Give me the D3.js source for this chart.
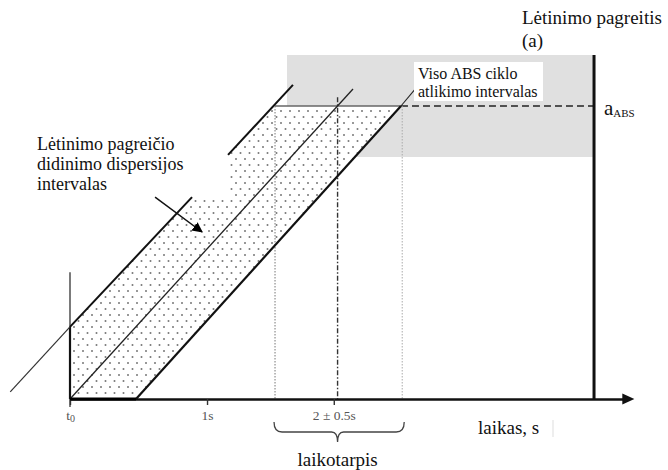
<!DOCTYPE html>
<html>
<head>
<meta charset="utf-8">
<script src="https://cdn.jsdelivr.net/npm/d3@7.9.0/dist/d3.min.js"></script>
</head>
<body style="margin:0; background:#fff">
<svg id="chart" width="668" height="470"></svg>
<script>
// time in seconds, deceleration relative to a_ABS (1 = a_ABS)
const tickValues = [0, 1, 1.925];
const tickLabels = ["t0", "1s", "2 \u00b1 0.5s"];

const upperLead = [[-0.43, 0.024], [0, 0.246]];
const upperPart1 = [[0, 0.246], [0.878, 0.689]];
const upperPart2 = [[1.137, 0.833], [1.604, 1.072]];
const middleLine = [[0, 0], [2.036, 1.058]];
const lowerLine = [[0.475, 0], [2.381, 1]];
const lowerLeader = [[2.381, 1], [2.489, 1.061]];

const band = [[0, 0.246], [0.878, 0.689], [1.137, 0.689], [1.137, 0.833],
              [1.475, 1], [2.381, 1], [0.475, 0], [0, 0]];

const tStart = 1.475, tMid = 1.925, tEnd = 2.39;   // laikotarpis
const tAxisEnd = 4.06, tRightAxis = 3.77;
const grayBox = { t0: 1.561, t1: 3.77, a0: 0.826, a1: 1.174 };
const aAbs = 1;

const serif = "'Liberation Serif', 'Tinos', 'Times New Roman'";
const svg = d3.select("#chart");

const x = d3.scaleLinear().domain([0, 1]).range([70, 209]);
const y = d3.scaleLinear().domain([0, 1]).range([399, 106]);

const line = d3.line().x(d => x(d[0])).y(d => y(d[1]));

function label(px, py, size, str) {
    return svg.append("text")
        .attr("x", px).attr("y", py)
        .attr("font-size", size).attr("fill", "#111")
        .style("font-family", serif)
        .text(str);
}

// dot pattern for the dispersion band
const defs = svg.append("defs");
const pat = defs.append("pattern")
    .attr("id", "dots")
    .attr("patternUnits", "userSpaceOnUse")
    .attr("width", 9).attr("height", 12);
pat.append("circle").attr("cx", 2).attr("cy", 3).attr("r", 1).attr("fill", "#777");
pat.append("circle").attr("cx", 6.5).attr("cy", 9).attr("r", 1).attr("fill", "#777");

// gray zone
svg.append("rect")
    .attr("x", x(grayBox.t0))
    .attr("y", y(grayBox.a1))
    .attr("width", x(grayBox.t1) - x(grayBox.t0))
    .attr("height", y(grayBox.a0) - y(grayBox.a1))
    .attr("fill", "#e0e0e0");

// dotted band
svg.append("path")
    .attr("d", line(band) + "Z")
    .attr("fill", "#fff");
svg.append("path")
    .attr("d", line(band) + "Z")
    .attr("fill", "url(#dots)");

// a_ABS level
svg.append("line")
    .attr("x1", x(tStart)).attr("x2", x(lowerLine[1][0]))
    .attr("y1", y(aAbs)).attr("y2", y(aAbs))
    .attr("stroke", "#666").attr("stroke-width", 1.6);
svg.append("line")
    .attr("x1", x(lowerLine[1][0])).attr("x2", x(tRightAxis))
    .attr("y1", y(aAbs)).attr("y2", y(aAbs))
    .attr("stroke", "#222").attr("stroke-width", 1.3)
    .attr("stroke-dasharray", "7,4");

// vertical interval markers
svg.append("line")
    .attr("x1", x(tStart)).attr("x2", x(tStart))
    .attr("y1", y(aAbs)).attr("y2", y(0))
    .attr("stroke", "#777").attr("stroke-width", 1)
    .attr("stroke-dasharray", "1.5,1.5");
svg.append("line")
    .attr("x1", x(tMid)).attr("x2", x(tMid))
    .attr("y1", y(1.03)).attr("y2", y(0))
    .attr("stroke", "#333").attr("stroke-width", 1.4)
    .attr("stroke-dasharray", "5,2,1.5,2");
svg.append("line")
    .attr("x1", x(tEnd)).attr("x2", x(tEnd))
    .attr("y1", y(aAbs)).attr("y2", y(0))
    .attr("stroke", "#aaa").attr("stroke-width", 1)
    .attr("stroke-dasharray", "1.5,1.5");

// left axis at t0
svg.append("line")
    .attr("x1", x(0)).attr("x2", x(0))
    .attr("y1", y(0.433)).attr("y2", y(-0.027))
    .attr("stroke", "#222").attr("stroke-width", 1.2);
svg.append("line")
    .attr("x1", x(0)).attr("x2", x(0))
    .attr("y1", y(upperLead[1][1])).attr("y2", y(0))
    .attr("stroke", "#111").attr("stroke-width", 2.2);

// slope lines
svg.append("path").attr("d", line(upperLead))
    .attr("stroke", "#333").attr("stroke-width", 1.2).attr("fill", "none");
svg.append("path").attr("d", line(upperPart1))
    .attr("stroke", "#111").attr("stroke-width", 2).attr("fill", "none");
svg.append("path").attr("d", line(upperPart2))
    .attr("stroke", "#111").attr("stroke-width", 2).attr("fill", "none");
svg.append("path").attr("d", line(middleLine))
    .attr("stroke", "#222").attr("stroke-width", 1.3).attr("fill", "none");
svg.append("path").attr("d", line(lowerLine))
    .attr("stroke", "#111").attr("stroke-width", 2.2).attr("fill", "none");
svg.append("path").attr("d", line(lowerLeader))
    .attr("stroke", "#222").attr("stroke-width", 1.1).attr("fill", "none");

// text box for ABS cycle
svg.append("rect")
    .attr("x", 414).attr("y", 62).attr("width", 129).attr("height", 39)
    .attr("fill", "#fff");
label(418, 79, 16, "Viso ABS ciklo");
label(418, 97, 16, "atlikimo intervalas");

// right axis
svg.append("line")
    .attr("x1", x(tRightAxis)).attr("x2", x(tRightAxis))
    .attr("y1", y(1.174)).attr("y2", y(0))
    .attr("stroke", "#111").attr("stroke-width", 3);

// time axis
const xAxisScale = x.copy().domain([0, tAxisEnd]).range([x(0), x(tAxisEnd) - 8]);
const xAxis = svg.append("g")
    .attr("transform", `translate(0,${y(0)})`)
    .call(d3.axisBottom(xAxisScale)
        .tickValues(tickValues)
        .tickSize(6)
        .tickSizeOuter(0)
        .tickPadding(5)
        .tickFormat((d, i) => tickLabels[i]));
xAxis.select(".domain").attr("stroke", "#111").attr("stroke-width", 2.4);
xAxis.selectAll(".tick line").attr("stroke", "#333").attr("stroke-width", 1.4);
xAxis.selectAll(".tick text")
    .style("font-family", serif)
    .attr("font-size", 13.5).attr("fill", "#555");
xAxis.selectAll(".tick text").filter((d, i) => i === 0)
    .text("t")
    .append("tspan").attr("font-size", 10).attr("dy", 2).text("0");

svg.append("line")
    .attr("x1", x(0)).attr("x2", x(lowerLine[0][0]))
    .attr("y1", y(0)).attr("y2", y(0))
    .attr("stroke", "#000").attr("stroke-width", 3);

const tipX = x(tAxisEnd);
svg.append("path")
    .attr("d", `M${tipX},${y(0)}L${tipX - 12},${y(0) - 5.5}L${tipX - 12},${y(0) + 5.5}Z`)
    .attr("fill", "#111");

// arrow to dispersion band
defs.append("marker")
    .attr("id", "arrow")
    .attr("viewBox", "0 0 10 10")
    .attr("refX", 9).attr("refY", 5)
    .attr("markerWidth", 7).attr("markerHeight", 7)
    .attr("markerUnits", "strokeWidth")
    .attr("orient", "auto")
  .append("path").attr("d", "M0,0L10,5L0,10Z").attr("fill", "#000");
svg.append("line")
    .attr("x1", x(0.612)).attr("y1", y(0.689))
    .attr("x2", x(0.95)).attr("y2", y(0.570))
    .attr("stroke", "#111").attr("stroke-width", 1.5)
    .attr("marker-end", "url(#arrow)");

// brace under interval
const by = y(0) + 23, bh = 10;
const bx0 = x(tStart) - 1, bx1 = x(tEnd) + 2, bm = x(tMid);
svg.append("path")
    .attr("d", `M${bx0},${by}Q${bx0},${by + bh} ${bx0 + 8},${by + bh}` +
               `L${bm - 6},${by + bh}Q${bm},${by + bh} ${bm},${by + bh + 10}` +
               `Q${bm},${by + bh} ${bm + 6},${by + bh}` +
               `L${bx1 - 8},${by + bh}Q${bx1},${by + bh} ${bx1},${by}`)
    .attr("fill", "none").attr("stroke", "#444").attr("stroke-width", 1.3);

label(bm, 466, 19, "laikotarpis").attr("text-anchor", "middle");

label(478, 434, 19, "laikas, s");
svg.append("line")
    .attr("x1", 553).attr("x2", 553).attr("y1", 420).attr("y2", 437)
    .attr("stroke", "#ddd").attr("stroke-width", 1);

// y label
label(522, 24, 19, "L\u0117tinimo pagreitis");
label(522, 47, 19, "(a)");

const aLabel = label(604, 115, 21, "a");
aLabel.append("tspan").attr("font-size", 11).attr("dy", 2).text("ABS");

// left note
const note = ["L\u0117tinimo pagrei\u010dio", "didinimo dispersijos", "intervalas"];
note.forEach((d, i) => label(37, 150 + i * 20, 18, d));
</script>
</body>
</html>
